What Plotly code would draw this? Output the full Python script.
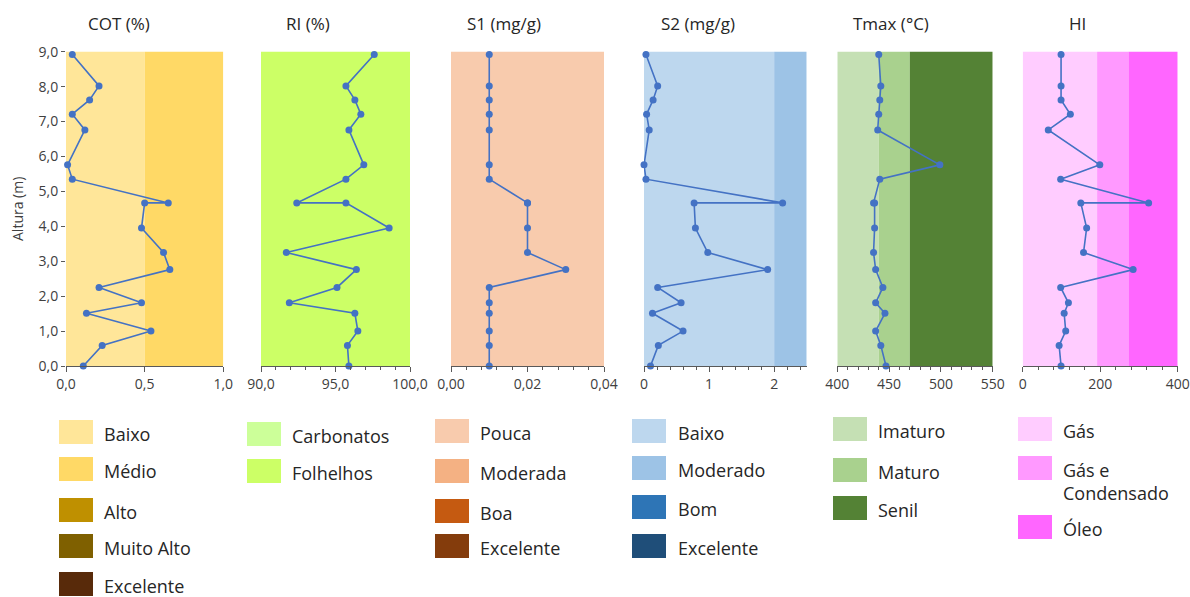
import plotly.graph_objects as go

# ---------------- data ----------------
depth = [8.92, 8.02, 7.62, 7.21, 6.76, 5.76, 5.35, 4.67, 4.67, 3.95, 3.25, 2.76, 2.25, 1.81, 1.51, 1.00, 0.59, 0.00]
cot = [0.04, 0.21, 0.15, 0.04, 0.12, 0.01, 0.04, 0.65, 0.50, 0.48, 0.62, 0.66, 0.21, 0.48, 0.13, 0.54, 0.23, 0.11]
ri = [97.6, 95.7, 96.3, 96.7, 95.9, 96.9, 95.7, 92.4, 95.7, 98.6, 91.7, 96.4, 95.1, 91.9, 96.3, 96.5, 95.8, 95.9]
s1 = [0.01, 0.01, 0.01, 0.01, 0.01, 0.01, 0.01, 0.02, 0.02, 0.02, 0.02, 0.03, 0.01, 0.01, 0.01, 0.01, 0.01, 0.01]
s2 = [0.03, 0.21, 0.14, 0.04, 0.08, 0.00, 0.03, 2.13, 0.77, 0.79, 0.98, 1.90, 0.21, 0.57, 0.13, 0.60, 0.22, 0.10]
tmax = [440, 442, 441, 440, 439, 499, 441, 435, 436, 436, 435, 437, 444, 437, 446, 437, 442, 447]
hi = [99, 99, 99, 123, 66, 199, 98, 325, 150, 165, 157, 285, 98, 118, 107, 111, 94, 99]

panel_titles = ["COT (%)", "RI (%)", "S1 (mg/g)", "S2 (mg/g)", "Tmax (°C)", "HI"]
series = [cot, ri, s1, s2, tmax, hi]
x_ranges = [[0, 1.0], [90, 100], [0, 0.04], [0, 2.5], [400, 550], [0, 400]]
x_dticks = [0.5, 5, 0.02, 1, 50, 200]
x_minor = [None, 1, 0.004, 0.2, 10, 40]
x_formats = [".1f", ".1f", ".2f", "d", "d", "d"]

# background classification bands: (start, end, colour)
bands = [
    [(0, 0.5, "#FFE699"), (0.5, 1.0, "#FFD966")],
    [(90, 100, "#CCFF66")],
    [(0, 0.04, "#F8CBAD")],
    [(0, 2.0, "#BDD7EE"), (2.0, 2.5, "#9DC3E6")],
    [(400, 440, "#C5E0B4"), (440, 470, "#A9D18E"), (470, 550, "#548235")],
    [(0, 192, "#FFCCFF"), (192, 273, "#FF99FF"), (273, 400, "#FF66FF")],
]

legend_labels = [
    ["Baixo", "Médio", "Alto", "Muito Alto", "Excelente"],
    ["Carbonatos", "Folhelhos"],
    ["Pouca", "Moderada", "Boa", "Excelente"],
    ["Baixo", "Moderado", "Bom", "Excelente"],
    ["Imaturo", "Maturo", "Senil"],
    ["Gás", "Gás e<br>Condensado", "Óleo"],
]
legend_colors = [
    ["#FFE699", "#FFD966", "#BF9000", "#7F6000", "#582A0A"],
    ["#CCFF99", "#CCFF66"],
    ["#F8CBAD", "#F4B183", "#C55A11", "#843C0C"],
    ["#BDD7EE", "#9DC3E6", "#2E75B6", "#1F4E79"],
    ["#C5E0B4", "#A9D18E", "#548235"],
    ["#FFCCFF", "#FF99FF", "#FF66FF"],
]

# ---------------- layout geometry (pixels) ----------------
W, H = 1190, 597
FONT = "Open Sans"
panel_px = [(66, 223.3), (261, 410), (451, 604), (644, 806.7), (837.3, 992.7), (1022.7, 1177.7)]
title_cx = [119, 308, 504, 698, 891, 1077]
plot_top, plot_bot = 51.7, 366
leg_sq_x = [59, 247, 435, 632, 833, 1018]
leg_txt_x = [102, 290, 478, 676, 876, 1061]
leg_tops = [
    [420, 457, 498, 534, 572],
    [422, 459],
    [419, 459, 499, 534],
    [419, 456, 495, 534],
    [417, 458, 496],
    [417, 456, 515],
]


def fx(px):
    return px / W


def fy(py):
    return 1 - py / H


fig = go.Figure()
layout_axes = {}
shapes = []
annotations = []

for i in range(6):
    n = "" if i == 0 else str(i + 1)
    xa, ya = "x" + n, "y" + n
    fig.add_trace(go.Scatter(
        x=series[i], y=depth, xaxis=xa, yaxis=ya, mode="lines+markers",
        line=dict(color="#4472C4", width=1.6),
        marker=dict(color="#4472C4", size=7),
        showlegend=False, cliponaxis=False,
    ))
    minor = dict(ticks="outside", ticklen=3, tickcolor="#595959", dtick=x_minor[i]) if x_minor[i] else dict(ticks="")
    layout_axes["xaxis" + n] = dict(
        domain=[fx(panel_px[i][0]), fx(panel_px[i][1])], anchor=ya,
        range=x_ranges[i], dtick=x_dticks[i], tick0=x_ranges[i][0], tickformat=x_formats[i],
        showgrid=False, zeroline=False, showline=True, linecolor="#595959", linewidth=1,
        ticks="outside", ticklen=5, tickcolor="#595959",
        tickfont=dict(family=FONT, size=14, color="#404040"), minor=minor,
        fixedrange=True, automargin=False,
    )
    layout_axes["yaxis" + n] = dict(
        domain=[fy(plot_bot), fy(plot_top)], anchor=xa, range=[0, 9], dtick=1,
        tickformat=".1f", showgrid=False, zeroline=False, showline=False,
        ticks="outside" if i == 0 else "", ticklen=4, tickcolor="#595959",
        showticklabels=(i == 0),
        tickfont=dict(family=FONT, size=14, color="#404040"),
        fixedrange=True, automargin=False,
    )
    for (a, b, c) in bands[i]:
        shapes.append(dict(type="rect", xref=xa, yref=ya + " domain", x0=a, x1=b, y0=0, y1=1,
                           fillcolor=c, line=dict(width=0), layer="below"))
    annotations.append(dict(text=panel_titles[i], x=fx(title_cx[i]), y=fy(23), xref="paper", yref="paper",
                            xanchor="center", yanchor="middle", showarrow=False,
                            font=dict(family=FONT, size=17, color="#262626")))
    # legend column
    for lab, col, top in zip(legend_labels[i], legend_colors[i], leg_tops[i]):
        shapes.append(dict(type="rect", xref="paper", yref="paper",
                           x0=fx(leg_sq_x[i]), x1=fx(leg_sq_x[i] + 34), y0=fy(min(top + 24, H)), y1=fy(top),
                           fillcolor=col, line=dict(width=0)))
        two = "<br>" in lab
        annotations.append(dict(text=lab, x=fx(leg_txt_x[i]), y=fy(top + (25 if two else 14)),
                                xref="paper", yref="paper", xanchor="left", yanchor="middle",
                                align="left", showarrow=False,
                                font=dict(family=FONT, size=18, color="#262626")))

annotations.append(dict(text="Altura (m)", x=fx(18), y=fy(209), xref="paper", yref="paper",
                        textangle=-90, xanchor="center", yanchor="middle", showarrow=False,
                        font=dict(family=FONT, size=14, color="#404040")))

fig.update_layout(
    width=W, height=H, margin=dict(l=0, r=0, t=0, b=0),
    paper_bgcolor="white", plot_bgcolor="white", separators=",.",
    shapes=shapes, annotations=annotations, showlegend=False, **layout_axes,
)

fig.write_html(
    "out.html",
    config={"displayModeBar": False},
    post_script="document.body.style.margin='0px';document.body.style.overflow='hidden';",
)
